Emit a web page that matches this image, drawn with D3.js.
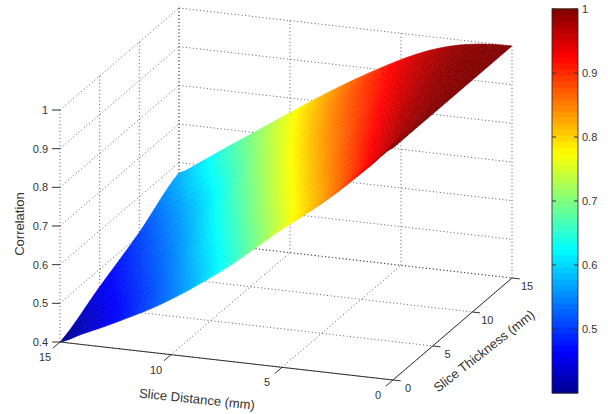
<!DOCTYPE html>
<html lang="en">
<head>
<meta charset="utf-8">
<title>Correlation surface</title>
<script src="https://cdnjs.cloudflare.com/ajax/libs/d3/7.8.5/d3.min.js"></script>
<style>
  html, body { margin: 0; padding: 0; background: #fff; }
  svg { display: block; }
  text { font-family: "Liberation Sans", Arial, sans-serif; font-size: 11px; fill: #333; }
  .grid { stroke: #333; stroke-width: 0.8; stroke-dasharray: 1 2.5; fill: none; }
  .axis { stroke: #333; stroke-width: 1; fill: none; }
</style>
</head>
<body>
<div id="chart"></div>
<script>
const distances = [15, 14, 13, 12, 11, 10, 9, 8, 7, 6, 5, 4, 3, 2, 1, 0];
const thicknesses = [0, 5, 10, 15];

// correlation along slice distance, one list per slice thickness
const corrThick0 = [0.40, 0.427, 0.453, 0.481, 0.51, 0.543, 0.58, 0.62, 0.663, 0.71, 0.757, 0.80, 0.845, 0.895, 0.948, 1.0];
const corrThick5 = [0.455, 0.478, 0.505, 0.535, 0.572, 0.613, 0.655, 0.70, 0.745, 0.788, 0.83, 0.87, 0.91, 0.95, 0.98, 1.0];
const corrThick10 = [0.508, 0.535, 0.568, 0.605, 0.648, 0.695, 0.737, 0.78, 0.82, 0.858, 0.89, 0.925, 0.955, 0.98, 0.993, 1.0];
const corrThick15 = [0.574, 0.609, 0.648, 0.686, 0.724, 0.762, 0.80, 0.836, 0.87, 0.902, 0.932, 0.958, 0.978, 0.991, 0.998, 1.0];
const surface = [corrThick0, corrThick5, corrThick10, corrThick15];

const distTicks = [15, 10, 5, 0];
const thickTicks = [0, 5, 10, 15];
const corrTicks = [0.4, 0.5, 0.6, 0.7, 0.8, 0.9, 1];
const barTicks = [0.5, 0.6, 0.7, 0.8, 0.9, 1];

const width = 608;
const height = 414;

const svg = d3.select("#chart").append("svg")
  .attr("width", width)
  .attr("height", height);

// fixed oblique view: each data axis gets its own screen x and y scale
const xOfDist = d3.scaleLinear().domain([0, 15]).range([393, 60]);
const yOfDist = d3.scaleLinear().domain([0, 15]).range([380, 342]);
const xOfThick = d3.scaleLinear().domain([0, 15]).range([0, 119]);
const yOfThick = d3.scaleLinear().domain([0, 15]).range([0, -102]);
const yOfCorr = d3.scaleLinear().domain([0.4, 1]).range([0, -232]);

function project(d, t, z) {
  return [xOfDist(d) + xOfThick(t), yOfDist(d) + yOfThick(t) + yOfCorr(z)];
}

// jet colormap
const jet = d3.scaleLinear()
  .domain([0.4, 0.465, 0.625, 0.775, 0.925, 1])
  .range(["#000090", "#0000ff", "#00ffff", "#ffff00", "#ff0000", "#800000"]);

function segment(a, b, cls) {
  svg.append("line").attr("class", cls)
    .attr("x1", a[0]).attr("y1", a[1])
    .attr("x2", b[0]).attr("y2", b[1]);
}

// dotted box grid
corrTicks.forEach(z => {
  segment(project(15, 0, z), project(15, 15, z), "grid");
  segment(project(15, 15, z), project(0, 15, z), "grid");
});
thickTicks.forEach(t => {
  segment(project(15, t, 0.4), project(15, t, 1), "grid");
  segment(project(15, t, 0.4), project(0, t, 0.4), "grid");
});
distTicks.forEach(d => {
  segment(project(d, 15, 0.4), project(d, 15, 1), "grid");
  segment(project(d, 0, 0.4), project(d, 15, 0.4), "grid");
});

// smooth shading: catmull-rom between the read values, like a fine mesh
function smooth(list, k, f) {
  const p0 = list[Math.max(k - 1, 0)], p1 = list[k];
  const p2 = list[Math.min(k + 1, list.length - 1)], p3 = list[Math.min(k + 2, list.length - 1)];
  return 0.5 * (2 * p1 + (p2 - p0) * f + (2 * p0 - 5 * p1 + 4 * p2 - p3) * f * f + (3 * p1 - p0 - 3 * p2 + p3) * f * f * f);
}

function surfacePoint(i, j, u, v, steps) {
  let a = i, b = j, fu = u / steps, fv = v / steps;
  if (fu >= 1 && b < distances.length - 2) { b += 1; fu -= 1; }
  if (fv >= 1 && a < thicknesses.length - 2) { a += 1; fv -= 1; }
  const t = thicknesses[a] + (thicknesses[a + 1] - thicknesses[a]) * fv;
  const d = distances[b] + (distances[b + 1] - distances[b]) * fu;
  const across = surface.map(row => smooth(row, b, fu));
  return { d, t, z: Math.min(1, smooth(across, a, fv)) };
}

const steps = 8;
const quads = [];
for (let i = 0; i < thicknesses.length - 1; i++) {
  for (let j = 0; j < distances.length - 1; j++) {
    for (let u = 0; u < steps; u++) {
      for (let v = 0; v < steps; v++) {
        quads.push({ i, j, u, v });
      }
    }
  }
}

svg.append("g").selectAll("polygon")
  .data(quads)
  .enter()
  .append("polygon")
  .attr("points", q => [[0, 0], [1, 0], [1, 1], [0, 1]].map(o => {
    const p = surfacePoint(q.i, q.j, q.u + o[0], q.v + o[1], steps);
    return project(p.d, p.t, p.z).join(",");
  }).join(" "))
  .attr("fill", q => jet(surfacePoint(q.i, q.j, q.u + 0.5, q.v + 0.5, steps).z))
  .attr("stroke", q => jet(surfacePoint(q.i, q.j, q.u + 0.5, q.v + 0.5, steps).z))
  .attr("stroke-width", 0.5);

// solid floor axes
segment(project(15, 0, 0.4), project(0, 0, 0.4), "axis");
segment(project(0, 0, 0.4), project(0, 15, 0.4), "axis");

// slice distance ticks
distTicks.forEach(d => {
  const p = project(d, 0, 0.4);
  segment(p, [p[0] + xOfThick(-0.9), p[1] + yOfThick(-0.9)], "axis");
});
svg.append("g").selectAll("text")
  .data(distTicks)
  .enter()
  .append("text")
  .attr("x", d => project(d, 0, 0.4)[0] - 15)
  .attr("y", d => project(d, 0, 0.4)[1] + 19)
  .attr("text-anchor", "middle")
  .text(d => d);

// slice thickness ticks
thickTicks.forEach(t => {
  const p = project(0, t, 0.4);
  segment(p, [xOfDist(-0.35) + xOfThick(t), yOfDist(-0.35) + yOfThick(t) + yOfCorr(0.4)], "axis");
});
svg.append("g").selectAll("text")
  .data(thickTicks)
  .enter()
  .append("text")
  .attr("x", t => project(0, t, 0.4)[0] + 15)
  .attr("y", t => project(0, t, 0.4)[1] + 12)
  .attr("text-anchor", "middle")
  .text(t => t);

// correlation ticks
corrTicks.forEach(z => {
  const p = project(15, 0, z);
  segment(p, [p[0] - 8, p[1]], "axis");
});
svg.append("g").selectAll("text")
  .data(corrTicks)
  .enter()
  .append("text")
  .attr("x", project(15, 0, 0.4)[0] - 12)
  .attr("y", z => project(15, 0, z)[1] + 4)
  .attr("text-anchor", "end")
  .text(z => z);

// axis titles
svg.append("text").attr("transform", "translate(197,399) rotate(6)")
  .attr("text-anchor", "middle").attr("dy", "0.35em").style("font-size", "13px")
  .text("Slice Distance (mm)");
svg.append("text").attr("transform", "translate(484,351) rotate(-38)")
  .attr("text-anchor", "middle").attr("dy", "0.35em").style("font-size", "13px")
  .text("Slice Thickness (mm)");
svg.append("text").attr("transform", "translate(19,224) rotate(-90)")
  .attr("text-anchor", "middle").attr("dy", "0.35em").style("font-size", "13px")
  .text("Correlation");

// colorbar
const barY = d3.scaleLinear().domain([0.4, 1]).range([393, 9]);
const barLevels = d3.range(64);
const barLevel = i => 0.4 + (i + 0.5) * 0.6 / 64;

svg.append("g").selectAll("rect")
  .data(barLevels)
  .enter()
  .append("rect")
  .attr("x", 552)
  .attr("width", 26)
  .attr("y", i => barY(barLevel(i)) - 3.5)
  .attr("height", 7)
  .attr("fill", i => jet(barLevel(i)));

svg.append("rect").attr("x", 552).attr("y", 9).attr("width", 26).attr("height", 384)
  .attr("fill", "none").attr("stroke", "#222").attr("stroke-width", 0.8);

const barAxis = d3.axisRight(barY).tickValues(barTicks).tickSize(0).tickPadding(4).tickFormat(d => d);
const barG = svg.append("g").attr("transform", "translate(578,0)").call(barAxis);
barG.select(".domain").remove();
barG.selectAll("text").style("font-size", "11px").style("font-family", null);

barTicks.forEach(v => {
  segment([552, barY(v)], [556, barY(v)], "axis");
  segment([574, barY(v)], [578, barY(v)], "axis");
});
</script>
</body>
</html>
